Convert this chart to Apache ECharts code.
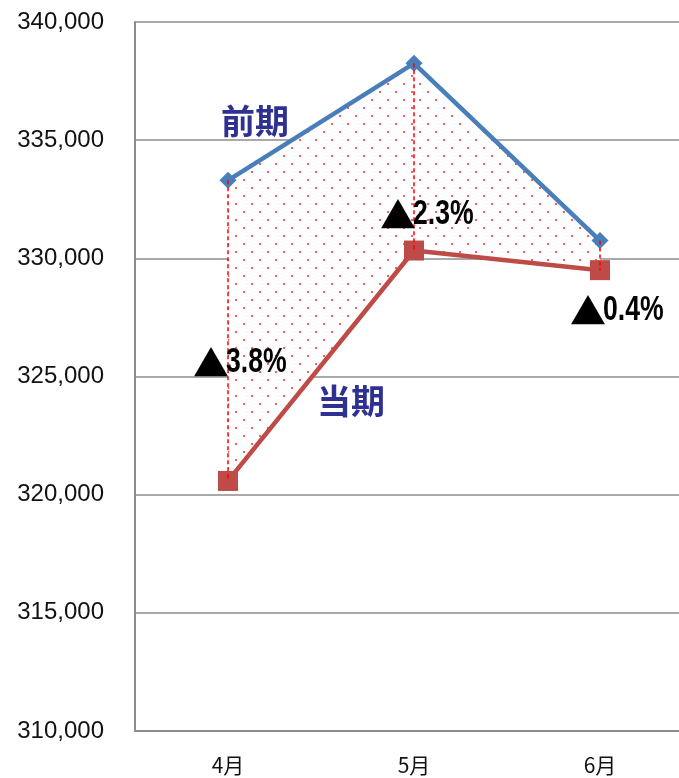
<!DOCTYPE html>
<html>
<head>
<meta charset="utf-8">
<script src="https://cdn.jsdelivr.net/npm/echarts@6/dist/echarts.min.js"></script>
<style>
  html, body { margin: 0; padding: 0; background: #fff; overflow: hidden; }
  #chart { width: 693px; height: 778px; }
</style>
</head>
<body>
<div id="chart"></div>
<script>
const months = ['4月', '5月', '6月']
const prevValues = [333300, 338250, 330750]   // 前期
const currValues = [320580, 330330, 329500]   // 当期
const yMin = 310000
const yMax = 340000
const yStep = 5000

// red dot pattern for the gap between the two lines
function dotPattern() {
  const c = document.createElement('canvas')
  c.width = 16
  c.height = 16
  const ctx = c.getContext('2d')
  ctx.fillStyle = '#ffffff'
  ctx.fillRect(0, 0, 16, 16)
  ctx.fillStyle = '#ff5c5c'
  ctx.fillRect(3, 3, 2, 2)
  ctx.fillRect(11, 11, 2, 2)
  return c
}

const gap = prevValues.map((v, i) => v - currValues[i])
const pctDown = currValues.map((v, i) => v < prevValues[i])
const pctText = currValues.map((v, i) => {
  const p = (v / prevValues[i] - 1) * 100
  return Math.abs(p).toFixed(1) + '%'
})

const nameStyle = {
  show: true,
  fontFamily: 'Noto Sans CJK JP',
  fontWeight: 'bold',
  fontSize: 34,
  color: '#2e3192'
}
// label left edge / middle relative to the 当期 point
const pctOffsets = [[-33, -119], [-32, -36], [-28, 40]]

const chart = echarts.init(document.getElementById('chart'))

chart.setOption({
  animation: false,
  grid: { left: 135, right: 0, top: 22, bottom: 47 },
  xAxis: {
    type: 'category',
    data: months,
    axisLine: { lineStyle: { color: '#8c8c8c', width: 2 } },
    axisTick: { show: false },
    axisLabel: { fontSize: 21, color: '#111', margin: 24, fontFamily: 'Noto Sans CJK JP' }
  },
  yAxis: {
    type: 'value',
    min: yMin,
    max: yMax,
    interval: yStep,
    axisLine: { show: true, lineStyle: { color: '#8c8c8c', width: 2 } },
    splitLine: { lineStyle: { color: '#8c8c8c', width: 1.5 } },
    axisLabel: {
      fontSize: 24,
      color: '#111',
      margin: 31,
      fontFamily: 'Liberation Sans',
      formatter: v => v.toLocaleString('en-US')
    }
  },
  series: [
    {
      name: 'base',
      type: 'line',
      stack: 'gap',
      data: currValues,
      symbol: 'none',
      lineStyle: { opacity: 0 },
      silent: true,
      z: 1
    },
    {
      name: 'gap',
      type: 'line',
      stack: 'gap',
      data: gap,
      symbol: 'none',
      lineStyle: { opacity: 0 },
      areaStyle: { color: { image: dotPattern(), repeat: 'repeat' }, opacity: 1 },
      silent: true,
      z: 1
    },
    {
      name: '前期',
      type: 'line',
      data: prevValues,
      symbol: 'diamond',
      symbolSize: 17,
      itemStyle: { color: '#4a7ebb' },
      lineStyle: { color: '#4a7ebb', width: 4.5 },
      z: 3,
      markPoint: {
        symbol: 'rect',
        symbolSize: 0,
        data: [{
          coord: [0, prevValues[0]],
          value: '前期',
          label: Object.assign({}, nameStyle, { position: 'inside', offset: [27, -59], formatter: '前期' })
        }]
      }
    },
    {
      name: '当期',
      type: 'line',
      data: currValues,
      symbol: 'rect',
      symbolSize: 20,
      itemStyle: { color: '#be4b48' },
      lineStyle: { color: '#be4b48', width: 4.5 },
      z: 4,
      markLine: {
        silent: true,
        symbol: 'none',
        label: { show: false },
        lineStyle: { color: '#ff0000', type: [4, 3], width: 1.5 },
        data: months.map((m, i) => [
          { coord: [i, prevValues[i]] },
          { coord: [i, currValues[i]] }
        ])
      },
      markPoint: {
        symbol: 'rect',
        symbolSize: 0,
        data: [{
          coord: [0, currValues[0]],
          value: '当期',
          label: Object.assign({}, nameStyle, { position: 'inside', offset: [123, -80], formatter: '当期' })
        }]
      }
    }
  ]
})

// percentage labels (wide triangle + condensed digits), placed from the axis scales
const pctGraphics = []
currValues.forEach((v, i) => {
  const p = chart.convertToPixel({ seriesIndex: 3 }, [i, v])
  const x0 = p[0] + pctOffsets[i][0]
  const y0 = p[1] + pctOffsets[i][1]
  if (pctDown[i]) {
    pctGraphics.push({
      type: 'text',
      id: 'tri' + i,
      x: x0 - 2,
      y: y0 + 1,
      z: 10,
      style: {
        text: '▲',
        align: 'left',
        verticalAlign: 'middle',
        fontFamily: 'Noto Sans CJK JP',
        fontSize: 36,
        fill: '#000'
      }
    })
  }
  pctGraphics.push({
    type: 'text',
    id: 'pct' + i,
    x: x0 + 31,
    y: y0,
    scaleX: 0.76,
    z: 10,
    style: {
      text: pctText[i],
      align: 'left',
      verticalAlign: 'middle',
      fontFamily: 'Liberation Sans',
      fontWeight: 'bold',
      fontSize: 35,
      fill: '#000'
    }
  })
})
chart.setOption({ graphic: pctGraphics })
</script>
</body>
</html>
